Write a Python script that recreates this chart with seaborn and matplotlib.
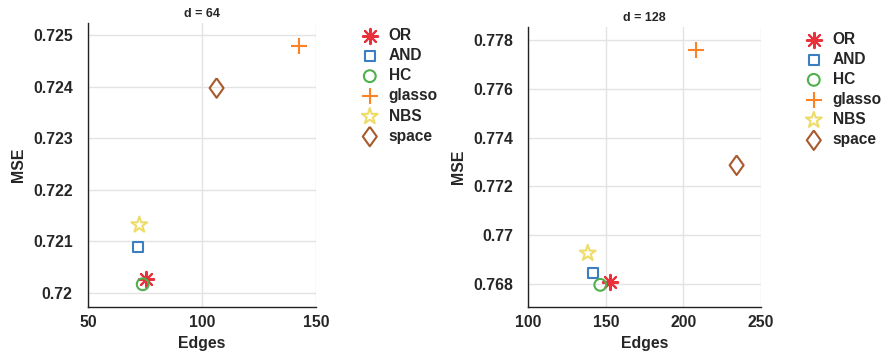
import numpy as np
import pandas as pd
import matplotlib
matplotlib.use("Agg")
import matplotlib.pyplot as plt
import seaborn as sns

sns.set_style("white")
plt.rcParams["font.family"] = ["Liberation Sans", "DejaVu Sans"]
plt.rcParams["font.weight"] = "bold"

methods = ["OR", "AND", "HC", "glasso", "NBS", "space"]

# d = 64
edges_64 = [75.4, 71.8, 74.0, 142.7, 72.5, 106.4]
mse_64 = [0.72027, 0.72089, 0.72017, 0.72479, 0.72132, 0.72397]

# d = 128
edges_128 = [152.6, 141.7, 146.4, 208.0, 138.3, 234.3]
mse_128 = [0.76809, 0.76846, 0.76796, 0.77761, 0.76926, 0.77287]

colors = ["#e8313a", "#3c7fc0", "#4fb04c", "#fb8326", "#eedc6a", "#a75a2c"]

asterisk = (8, 2, 0)
diamond = [(0, 1), (0.72, 0), (0, -1), (-0.72, 0), (0, 1)]
markers = [asterisk, "s", "o", "+", "*", diamond]
sizes = [11, 7, 8.5, 12, 12, 14]
hollow = [False, True, True, False, True, True]

FS = 11.2

fig = plt.figure(figsize=(8.83, 3.56), dpi=100)
W, H = 883, 356
ax1 = fig.add_axes([88 / W, 49 / H, 228 / W, 284 / H])
ax2 = fig.add_axes([528.3 / W, 49 / H, 232.7 / W, 280.3 / H])


def draw(ax, xs, ys, title, xlim, ylim, xticks, yticks, yfmt, leg_x):
    df = pd.DataFrame({"Edges": xs, "MSE": ys, "method": methods})
    for i, m in enumerate(methods):
        sub = df[df["method"] == m]
        kw = dict(marker=markers[i], s=sizes[i] ** 2, linewidth=1.5,
                  color=colors[i], label=m, zorder=3)
        if hollow[i]:
            kw.update(facecolor="none", edgecolor=colors[i])
        sns.scatterplot(data=sub, x="Edges", y="MSE", ax=ax, **kw)
    ax.set_xlim(*xlim)
    ax.set_ylim(*ylim)
    ax.set_xticks(xticks)
    ax.set_yticks(yticks)
    ax.set_xticklabels([str(t) for t in xticks])
    ax.set_yticklabels(yfmt)
    ax.grid(True, color="#e3e3e3", linewidth=1.0, zorder=0)
    ax.set_axisbelow(True)
    for s in ["top", "right"]:
        ax.spines[s].set_visible(False)
    for s in ["left", "bottom"]:
        ax.spines[s].set_color("#222222")
        ax.spines[s].set_linewidth(1.0)
    ax.tick_params(axis="y", direction="in", length=3, pad=11,
                   labelsize=11.4, color="#222222")
    ax.tick_params(axis="x", direction="in", length=3, pad=6,
                   labelsize=11.4, color="#222222")
    for lbl in ax.get_xticklabels() + ax.get_yticklabels():
        lbl.set_fontweight("bold")
        lbl.set_color("#262626")
    ax.set_xlabel("Edges", fontsize=11.4, fontweight="bold", color="#262626", labelpad=4)
    ax.set_ylabel("MSE", fontsize=11.4, fontweight="bold", color="#262626", labelpad=5)
    ax.set_title(title, fontsize=9, fontweight="bold", pad=4)
    leg = ax.legend(loc="upper left", bbox_to_anchor=(leg_x, 1.0), frameon=False,
                    fontsize=FS, handletextpad=0.72, labelspacing=0.33,
                    borderaxespad=0.0, handlelength=1.0, borderpad=0.32)
    for t in leg.get_texts():
        t.set_fontweight("bold")


draw(ax1, edges_64, mse_64, "d = 64", (50, 150), (0.71973, 0.72523),
     [50, 100, 150], [0.720, 0.721, 0.722, 0.723, 0.724, 0.725],
     ["0.72", "0.721", "0.722", "0.723", "0.724", "0.725"], 1.18)
draw(ax2, edges_128, mse_128, "d = 128", (100, 250), (0.76705, 0.77856),
     [100, 150, 200, 250], [0.768, 0.770, 0.772, 0.774, 0.776, 0.778],
     ["0.768", "0.77", "0.772", "0.774", "0.776", "0.778"], 1.172)

fig.savefig("out.png", dpi=100)
